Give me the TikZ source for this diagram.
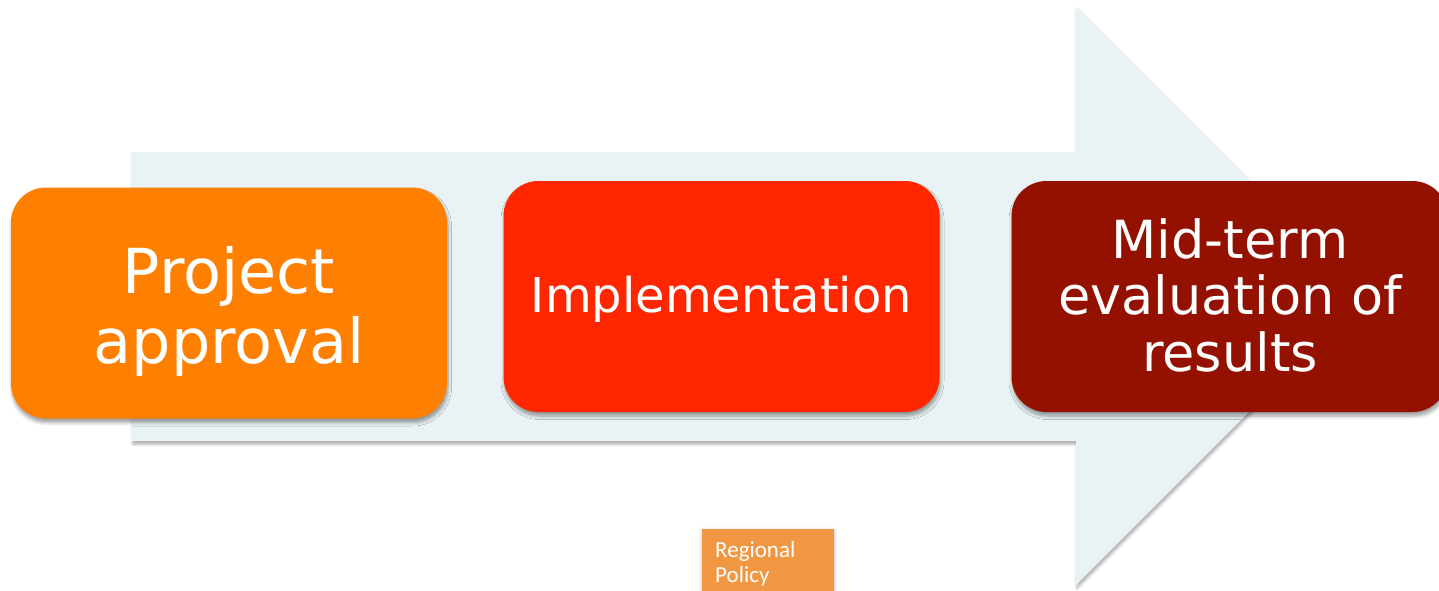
\documentclass[tikz,border=0pt]{standalone}
\usepackage{fontspec}
\newfontfamily\boxfont{DejaVu Sans}
\newfontfamily\smallfont{Carlito}
\usetikzlibrary{shadows.blur}
\definecolor{arrowfill}{HTML}{E9F2F4}
\definecolor{cOrange}{HTML}{FF7F00}
\definecolor{cRed}{HTML}{FF2600}
\definecolor{cDark}{HTML}{941100}
\definecolor{cPolicy}{HTML}{F19643}
\begin{document}
\begin{tikzpicture}[x=1pt,y=-1pt,
  stage/.style={rounded corners=35pt, inner sep=0pt, minimum width=436pt, minimum height=231pt,
    blur shadow={shadow xshift=1pt, shadow yshift=-4pt, shadow blur radius=3.5pt, shadow blur steps=6, shadow opacity=38}},
  stagetext/.style={text=white, align=center, inner sep=0pt},
  arrowshape/.style={fill=arrowfill, blur shadow={shadow xshift=1pt, shadow yshift=-3pt, shadow blur radius=3pt, shadow blur steps=5, shadow opacity=35}}
]
\useasboundingbox (0,0) rectangle (1439,590);
\begin{scope}
\clip (0,0) rectangle (1439,590);
% big background arrow
\path[arrowshape] (132,152) -- (1076,152) -- (1076,7) -- (1365,296) -- (1076,585) -- (1076,441) -- (132,441) -- cycle;
% stage boxes
\node[stage, fill=cOrange] (b1) at (229,303) {};
\node[stage, fill=cRed] (b2) at (721.5,296.5) {};
\node[stage, fill=cDark] (b3) at (1229.5,296.5) {};
\node[stagetext, font=\fontsize{62}{70}\boxfont\selectfont] (t1) at (229,311) {Project\\approval};
\node[stagetext, font=\fontsize{48}{56}\boxfont\selectfont] (t2) at (721.5,299) {Implementation};
\node[stagetext, font=\fontsize{52.5}{56.5}\boxfont\selectfont] (t3) at (1230,295) {Mid-term\\evaluation of\\results};
% footer tag
\node[fill=cPolicy, text=white, anchor=north west, inner xsep=13pt, inner ysep=12pt, text width=106pt, align=left,
  font=\fontsize{23}{25.5}\smallfont\selectfont,
  blur shadow={shadow xshift=0pt, shadow yshift=-1pt, shadow blur radius=3pt, shadow blur steps=4, shadow opacity=30}]
  (rp) at (702,529) {Regional\\Policy};
\end{scope}
\end{tikzpicture}
\end{document}
